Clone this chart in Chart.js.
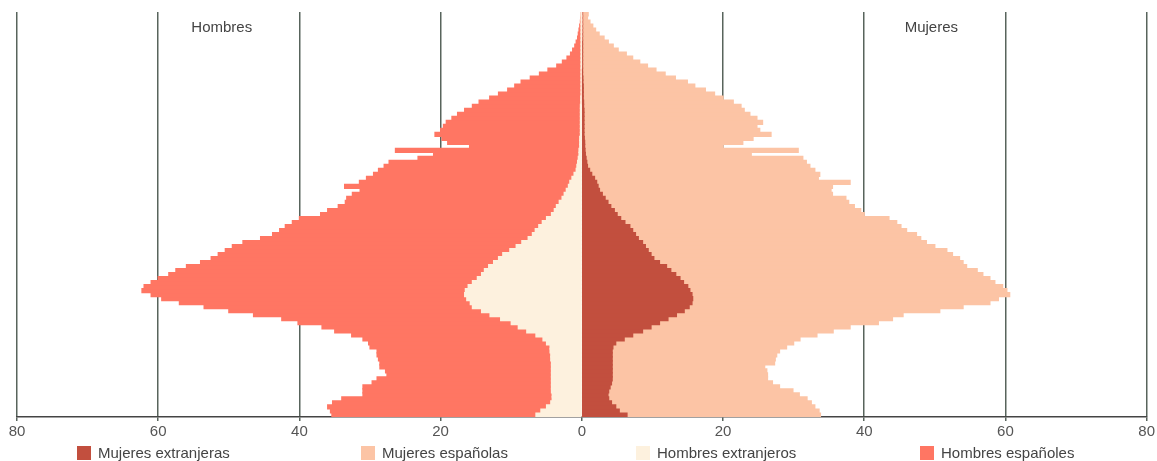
<!DOCTYPE html>
<html>
<head>
<meta charset="utf-8">
<script src="https://cdn.jsdelivr.net/npm/chart.js@4.4.1/dist/chart.umd.min.js"></script>
<style>
  html, body { margin: 0; padding: 0; background: #fff; }
  #wrap { position: relative; width: 1157px; height: 461px; }
  #legend { position: absolute; left: 0; top: 445px; width: 1157px; height: 16px;
            font-family: "Liberation Sans", Arial, sans-serif; font-size: 15px; color: #444; }
  .item { position: absolute; top: 0; white-space: nowrap; line-height: 16px; }
  .box { display: inline-block; width: 14px; height: 14px; vertical-align: -2px; margin-right: 7px; }
</style>
</head>
<body>
<div id="wrap">
  <canvas id="pyramid" width="1157" height="461"></canvas>
  <div id="legend"></div>
</div>
<script>
// Población por edad y sexo (miles de personas), edad 0 a 100+
const ages = [0, 1, 2, 3, 4, 5, 6, 7, 8, 9, 10, 11, 12, 13, 14, 15, 16, 17, 18, 19,
  20, 21, 22, 23, 24, 25, 26, 27, 28, 29, 30, 31, 32, 33, 34, 35, 36, 37, 38, 39,
  40, 41, 42, 43, 44, 45, 46, 47, 48, 49, 50, 51, 52, 53, 54, 55, 56, 57, 58, 59,
  60, 61, 62, 63, 64, 65, 66, 67, 68, 69, 70, 71, 72, 73, 74, 75, 76, 77, 78, 79,
  80, 81, 82, 83, 84, 85, 86, 87, 88, 89, 90, 91, 92, 93, 94, 95, 96, 97, 98, 99, 100];

const hombresExtranjeros = [6.5, 5.8, 5.0, 4.4, 4.2, 4.2, 4.3, 4.3, 4.3, 4.3,
  4.3, 4.3, 4.3, 4.3, 4.4, 4.4, 4.5, 4.5, 5.0, 5.5,
  6.5, 7.8, 9.0, 10.0, 11.5, 13.0, 14.2, 15.5, 15.8, 16.3,
  16.6, 16.5, 16.1, 15.5, 14.8, 14.2, 13.8, 13.2, 12.5, 11.8,
  11.2, 10.2, 9.3, 8.5, 7.6, 7.0, 6.6, 6.1, 5.6, 5.0,
  4.3, 3.9, 3.6, 3.2, 2.8, 2.5, 2.2, 1.9, 1.7, 1.4,
  1.1, 0.8, 0.7, 0.6, 0.5, 0.4, 0.4, 0.3, 0.3, 0.3,
  0.2, 0.2, 0.2, 0.2, 0.2, 0.2, 0.2, 0.2, 0.15, 0.15,
  0.1, 0.1, 0.1, 0.1, 0.1, 0.1, 0.1, 0.05, 0.05, 0.05,
  0.05, 0.05, 0.05, 0.05, 0.03, 0.03, 0.02, 0.02, 0.01, 0.01, 0.01];

const hombresEspanoles = [28.9, 29.8, 31.0, 30.9, 29.8, 26.8, 26.7, 26.7, 25.4, 24.7,
  23.3, 23.5, 24.3, 24.3, 24.4, 24.6, 24.5, 25.5, 25.2, 25.5,
  26.1, 27.2, 27.8, 30.2, 31.0, 33.5, 35.8, 38.0, 41.2, 43.2,
  44.4, 45.8, 45.9, 45.5, 45.2, 44.3, 43.7, 42.8, 41.5, 40.7,
  40.3, 40.3, 40.2, 39.5, 37.9, 36.8, 36.2, 35.9, 35.4, 35.0,
  32.7, 32.1, 30.9, 30.3, 30.5, 30.0, 29.2, 31.7, 29.8, 29.1,
  28.4, 28.0, 27.3, 26.7, 22.7, 20.6, 26.0, 15.6, 18.7, 19.5,
  20.6, 19.8, 19.4, 19.0, 18.2, 17.4, 16.4, 15.3, 14.4, 12.9,
  11.7, 10.4, 9.4, 8.5, 7.2, 5.9, 4.7, 3.5, 2.7, 2.05,
  1.55, 1.25, 0.95, 0.75, 0.57, 0.47, 0.38, 0.28, 0.19, 0.14, 0.09];

const mujeresExtranjeras = [6.4, 5.3, 4.8, 4.2, 3.8, 3.7, 3.8, 4.0, 4.2, 4.3,
  4.3, 4.3, 4.3, 4.3, 4.3, 4.3, 4.3, 4.4, 4.8, 6.0,
  7.2, 8.6, 9.8, 11.0, 12.2, 13.4, 14.5, 15.2, 15.6, 15.7,
  15.6, 15.3, 15.0, 14.4, 13.9, 13.3, 12.6, 12.0, 11.0, 10.2,
  9.8, 9.4, 9.0, 8.6, 8.0, 7.6, 7.2, 6.8, 6.1, 5.5,
  5.0, 4.6, 4.1, 3.7, 3.3, 2.9, 2.5, 2.3, 2.1, 1.8,
  1.4, 1.1, 0.8, 0.7, 0.6, 0.5, 0.45, 0.4, 0.4, 0.35,
  0.3, 0.3, 0.3, 0.3, 0.3, 0.3, 0.3, 0.25, 0.25, 0.2,
  0.2, 0.2, 0.2, 0.15, 0.15, 0.1, 0.1, 0.1, 0.1, 0.1,
  0.1, 0.05, 0.05, 0.05, 0.05, 0.05, 0.05, 0.05, 0.05, 0.05, 0.05];

const mujeresEspanolas = [27.4, 28.3, 28.2, 28.3, 28.1, 27.1, 26.1, 24.0, 22.8, 22.0,
  22.0, 21.9, 21.6, 23.0, 23.1, 23.3, 23.7, 24.6, 25.2, 24.9,
  26.1, 27.0, 28.2, 31.0, 31.8, 32.1, 36.2, 38.8, 42.2, 43.3,
  45.0, 44.9, 44.6, 44.1, 43.9, 43.5, 43.4, 42.5, 43.0, 43.3,
  42.7, 42.3, 41.0, 40.2, 40.0, 39.8, 38.8, 38.4, 38.5, 38.0,
  35.0, 34.9, 34.5, 34.1, 34.1, 32.6, 32.8, 33.2, 35.9, 31.7,
  32.3, 31.9, 31.5, 31.1, 30.7, 23.5, 30.2, 19.6, 22.4, 23.9,
  26.5, 24.9, 24.5, 25.3, 24.5, 23.5, 22.7, 22.3, 21.2, 19.8,
  18.6, 17.3, 15.8, 14.8, 13.1, 11.7, 10.4, 9.2, 8.1, 7.1,
  6.2, 5.1, 4.4, 3.7, 3.1, 2.4, 1.9, 1.5, 1.1, 0.75, 0.85];

const xTicks = [-80, -60, -40, -20, 0, 20, 40, 60, 80];

const colors = {
  hombresEspanoles: '#ff7663',
  hombresExtranjeros: '#fdf1de',
  mujeresExtranjeras: '#c24f3e',
  mujeresEspanolas: '#fcc4a5',
};

const FONT = '"Liberation Sans", Arial, sans-serif';
const GRID = '#58645c';

// men are drawn to the left of zero
const neg = arr => arr.map(v => -v);

// "Hombres" / "Mujeres" headings inside the plot
const sideTitles = {
  id: 'sideTitles',
  afterDraw(chart) {
    const { ctx, scales } = chart;
    ctx.save();
    ctx.font = '15px ' + FONT;
    ctx.fillStyle = '#444';
    ctx.textAlign = 'center';
    ctx.textBaseline = 'middle';
    ctx.fillText('Hombres', scales.x.getPixelForValue(-51), 28);
    ctx.fillText('Mujeres', scales.x.getPixelForValue(49.5), 28);
    ctx.restore();
  }
};

const datasets = [
  { label: 'Hombres extranjeros', data: neg(hombresExtranjeros), backgroundColor: colors.hombresExtranjeros },
  { label: 'Hombres españoles', data: neg(hombresEspanoles), backgroundColor: colors.hombresEspanoles },
  { label: 'Mujeres extranjeras', data: mujeresExtranjeras, backgroundColor: colors.mujeresExtranjeras },
  { label: 'Mujeres españolas', data: mujeresEspanolas, backgroundColor: colors.mujeresEspanolas },
];
datasets.forEach(d => {
  d.borderWidth = 0;
  d.barPercentage = 1;
  d.categoryPercentage = 1;
  d.inflateAmount = 0.6; // hide the hairline seams between ages
});

const chart = new Chart(document.getElementById('pyramid'), {
  type: 'bar',
  data: { labels: ages, datasets: datasets },
  options: {
    indexAxis: 'y',
    responsive: false,
    animation: false,
    layout: { padding: { left: 17, right: 8, top: 12, bottom: 18 } },
    plugins: {
      legend: { display: false },
      tooltip: { enabled: false },
    },
    scales: {
      x: {
        stacked: true,
        min: -80,
        max: 80,
        afterBuildTicks: axis => { axis.ticks = xTicks.map(v => ({ value: v })); },
        ticks: {
          callback: v => Math.abs(v),
          color: '#555',
          font: { family: FONT, size: 15 },
          padding: 2,
          maxRotation: 0,
        },
        grid: {
          color: c => (c.tick && c.tick.value === 0) ? 'rgba(0,0,0,0)' : GRID,
          lineWidth: 1.5,
          tickLength: 4,
          tickColor: GRID,
        },
        border: { color: '#444', width: 1.5 },
      },
      y: {
        stacked: true,
        reverse: true,
        display: false,
      },
    },
  },
  plugins: [sideTitles],
});

// legend under the axis, same order and spacing as the original
const legendOrder = [2, 3, 0, 1];
const legendLeft = [77, 361, 636, 920];
const legend = document.getElementById('legend');
legendOrder.forEach((idx, i) => {
  const ds = chart.data.datasets[idx];
  const item = document.createElement('div');
  item.className = 'item';
  item.style.left = legendLeft[i] + 'px';
  item.innerHTML = '<span class="box" style="background:' + ds.backgroundColor + '"></span>' + ds.label;
  legend.appendChild(item);
});
</script>
</body>
</html>
